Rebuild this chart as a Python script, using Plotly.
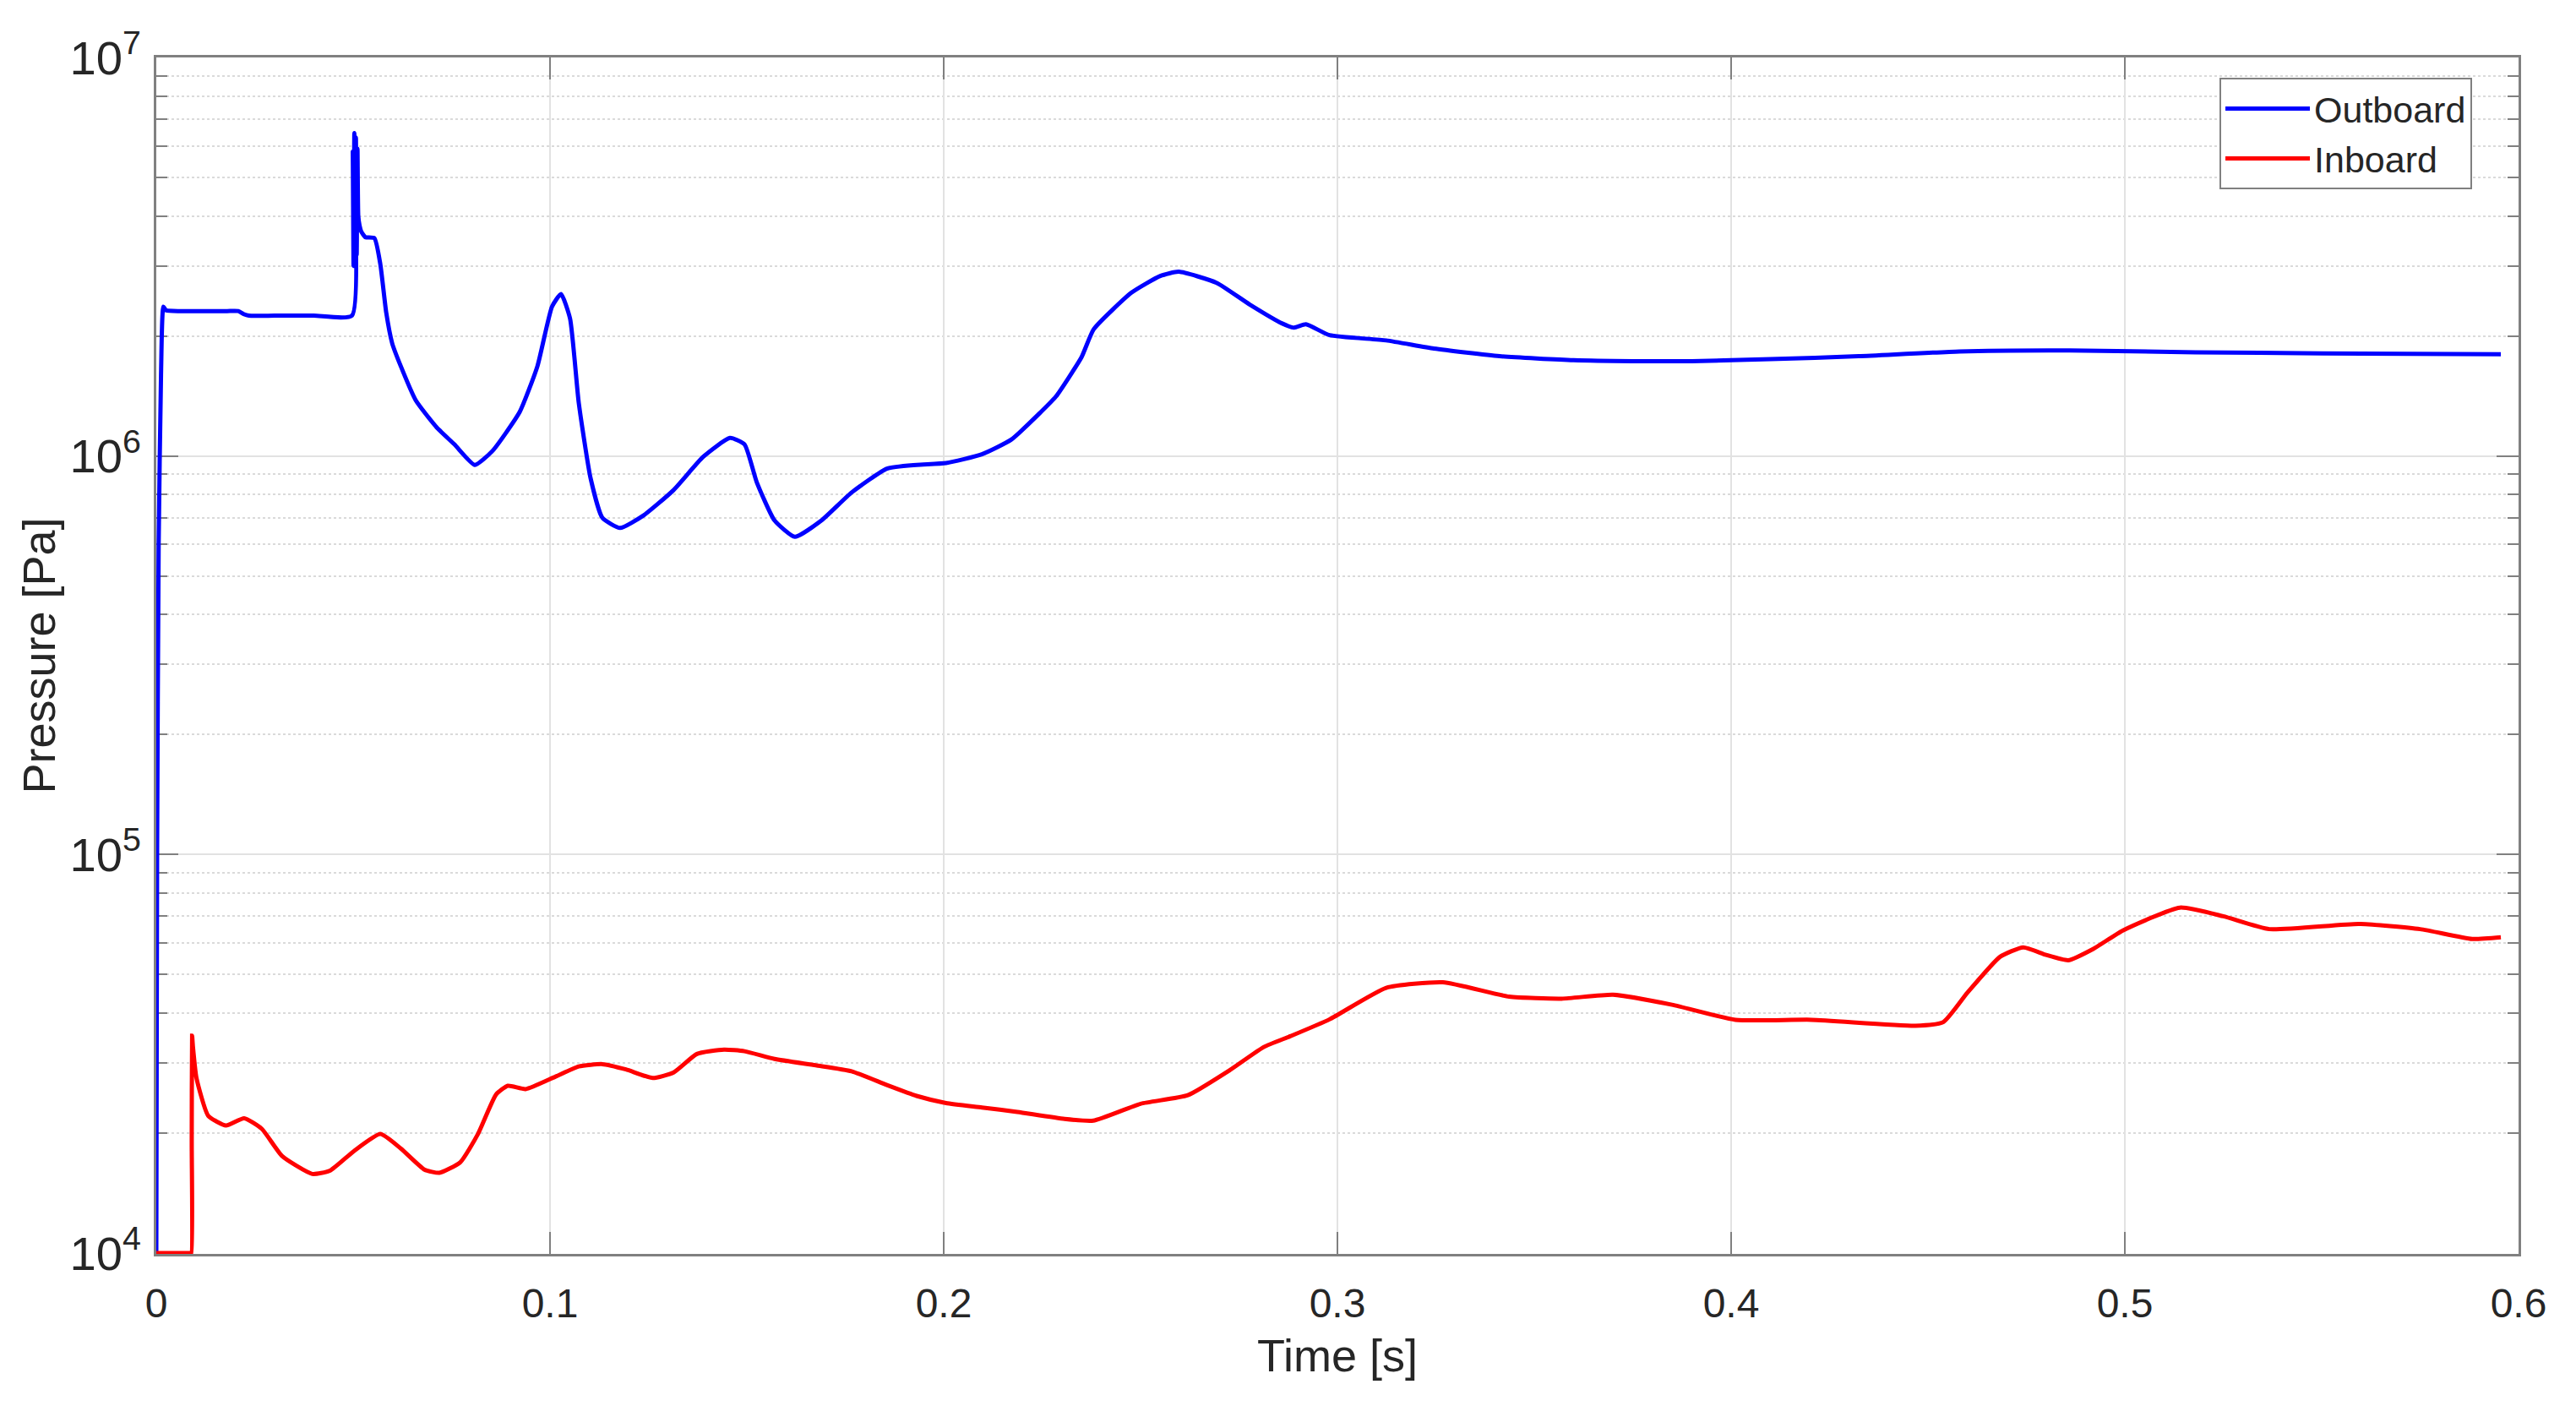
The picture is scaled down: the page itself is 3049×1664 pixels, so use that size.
import plotly.graph_objects as go

# ---- data ----
time_outboard = [0, 0.0002, 0.0006, 0.0012, 0.0018, 0.0025, 0.006, 0.012, 0.018, 0.0208, 0.0222, 0.0235,
                 0.030, 0.040, 0.0497, 0.0499, 0.0501, 0.0503, 0.0505, 0.0507, 0.0509, 0.0511, 0.0513,
                 0.0516, 0.0521, 0.0531, 0.0554, 0.0569, 0.0584, 0.0599, 0.0621, 0.0659, 0.0712, 0.0757,
                 0.0809, 0.0854, 0.0923, 0.0968, 0.1005, 0.1028, 0.1051, 0.1073, 0.1103, 0.1133, 0.1178,
                 0.1238, 0.1313, 0.1389, 0.1457, 0.1494, 0.1525, 0.157, 0.1622, 0.169, 0.1766, 0.1856,
                 0.1931, 0.2006, 0.2097, 0.2172, 0.2247, 0.2285, 0.235, 0.2381, 0.2477, 0.255, 0.2597,
                 0.2693, 0.2777, 0.286, 0.289, 0.292, 0.298, 0.3124, 0.3245, 0.3412, 0.36, 0.375, 0.39,
                 0.41, 0.4324, 0.458, 0.486, 0.518, 0.55, 0.5955]
pressure_outboard = [1e4, 1e5, 6e5, 1.6e6, 2.37e6, 2.32e6, 2.31e6, 2.31e6, 2.31e6, 2.31e6, 2.27e6, 2.25e6,
                     2.25e6, 2.25e6, 2.25e6, 5.8e6, 3.0e6, 6.46e6, 3.3e6, 6.3e6, 3.2e6, 5.9e6, 4.0e6,
                     3.8e6, 3.65e6, 3.54e6, 3.52e6, 3.03e6, 2.29e6, 1.92e6, 1.68e6, 1.38e6, 1.18e6, 1.07e6,
                     9.5e5, 1.03e6, 1.29e6, 1.68e6, 2.37e6, 2.55e6, 2.21e6, 1.36e6, 8.8e5, 7.0e5, 6.6e5,
                     7.1e5, 8.2e5, 9.95e5, 1.11e6, 1.07e6, 8.6e5, 6.9e5, 6.27e5, 6.9e5, 8.1e5, 9.3e5,
                     9.5e5, 9.6e5, 1.01e6, 1.10e6, 1.29e6, 1.41e6, 1.77e6, 2.08e6, 2.57e6, 2.83e6, 2.9e6,
                     2.72e6, 2.4e6, 2.15e6, 2.1e6, 2.14e6, 2.01e6, 1.95e6, 1.86e6, 1.78e6, 1.74e6, 1.73e6,
                     1.73e6, 1.75e6, 1.78e6, 1.83e6, 1.84e6, 1.82e6, 1.81e6, 1.8e6]

time_inboard = [0, 0.0086, 0.0089, 0.0090, 0.0091, 0.0093, 0.0102, 0.0132, 0.0177, 0.0223, 0.0268, 0.032,
                0.0396, 0.0441,
                0.0501, 0.0569, 0.0621, 0.0681, 0.0719, 0.0772, 0.0817, 0.0863, 0.0893, 0.0938, 0.1013,
                0.1073, 0.1133, 0.1193, 0.1261, 0.1314, 0.1373, 0.1442, 0.1494, 0.157, 0.1675, 0.1766,
                0.1856, 0.1931, 0.2006, 0.2097, 0.2187, 0.2307, 0.2380, 0.25, 0.262, 0.2727, 0.2813,
                0.288, 0.298, 0.3124, 0.3268, 0.3436, 0.3570, 0.37, 0.385, 0.4011, 0.4204, 0.4468,
                0.4539, 0.4600, 0.4683, 0.4742, 0.4800, 0.4856, 0.4920, 0.4995, 0.514, 0.5250, 0.5367,
                0.5594, 0.575, 0.5882, 0.5955]
pressure_inboard = [1e4, 1e4, 1e4, 1.9e4, 3.51e4, 3.3e4, 2.75e4, 2.21e4, 2.09e4, 2.18e4, 2.05e4, 1.75e4,
                    1.58e4, 1.61e4,
                    1.8e4, 1.99e4, 1.83e4, 1.62e4, 1.59e4, 1.69e4, 1.99e4, 2.5e4, 2.63e4, 2.58e4, 2.77e4,
                    2.94e4, 2.98e4, 2.89e4, 2.75e4, 2.84e4, 3.16e4, 3.24e4, 3.21e4, 3.07e4, 2.96e4, 2.86e4,
                    2.64e4, 2.48e4, 2.38e4, 2.32e4, 2.26e4, 2.17e4, 2.15e4, 2.37e4, 2.49e4, 2.88e4, 3.29e4,
                    3.5e4, 3.86e4, 4.63e4, 4.78e4, 4.4e4, 4.35e4, 4.45e4, 4.2e4, 3.85e4, 3.85e4, 3.72e4,
                    3.8e4, 4.5e4, 5.54e4, 5.85e4, 5.6e4, 5.43e4, 5.8e4, 6.45e4, 7.36e4, 7.0e4, 6.5e4,
                    6.7e4, 6.5e4, 6.14e4, 6.2e4]

series_names = ["Outboard", "Inboard"]
x_title = "Time [s]"
y_title = "Pressure [Pa]"

FONT = "Liberation Sans, Arial, Helvetica, sans-serif"
TEXT = "#262626"
AXIS = "#808080"

fig = go.Figure()
fig.add_trace(go.Scatter(x=time_outboard, y=pressure_outboard, mode="lines", name=series_names[0],
                         line=dict(color="#0000ff", width=5, shape="spline", smoothing=0.5)))
fig.add_trace(go.Scatter(x=time_inboard, y=pressure_inboard, mode="lines", name=series_names[1],
                         line=dict(color="#ff0000", width=5, shape="spline", smoothing=0.5)))

fig.update_layout(
    width=3049, height=1664,
    margin=dict(l=185, r=68, t=68, b=180),
    paper_bgcolor="white", plot_bgcolor="white",
    font=dict(family=FONT, size=48, color=TEXT),
    showlegend=True,
    legend=dict(x=0.8734, y=0.983, xanchor="left", yanchor="top",
                bordercolor=AXIS, borderwidth=2, bgcolor="white",
                font=dict(size=43, color=TEXT), itemwidth=100, tracegroupgap=0),
)

fig.update_xaxes(
    range=[0, 0.6], dtick=0.1, tick0=0,
    showline=True, linecolor=AXIS, linewidth=3, mirror="allticks",
    ticks="inside", ticklen=26, tickwidth=2, tickcolor=AXIS,
    showgrid=True, gridcolor="#e2e2e2", gridwidth=2, zeroline=False,
    ticklabelstandoff=14, layer="below traces",
    title=dict(text=x_title, font=dict(size=54, color=TEXT), standoff=18),
)
fig.update_yaxes(
    type="log", range=[3.998, 7], dtick=1, exponentformat="power", showexponent="all",
    showline=True, linecolor=AXIS, linewidth=3, mirror="allticks",
    ticks="inside", ticklen=26, tickwidth=2, tickcolor=AXIS,
    showgrid=True, gridcolor="#e2e2e2", gridwidth=2, zeroline=False,
    tickfont=dict(size=45), ticklabelstandoff=6, layer="below traces",
    minor=dict(dtick="D1", ticks="inside", ticklen=13, tickwidth=2, tickcolor=AXIS,
               showgrid=True, gridcolor="#dadada", griddash="dot", gridwidth=2),
    title=dict(text=y_title, font=dict(size=54, color=TEXT), standoff=0),
)

fig.write_html("out.html", config={"displayModeBar": False},
               post_script="document.body.style.margin='0';document.body.style.overflow='hidden';")
